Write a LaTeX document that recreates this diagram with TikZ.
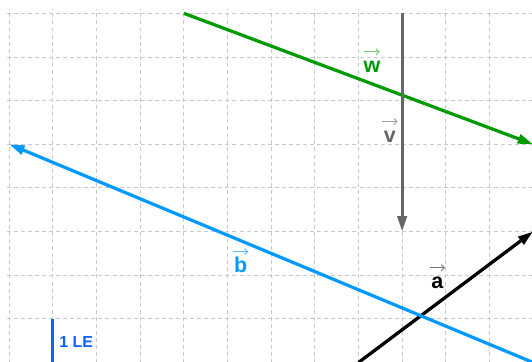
\documentclass[tikz,border=0pt]{standalone}
\usepackage{fontspec}
\setmainfont{Liberation Sans}
\usetikzlibrary{arrows.meta}

\definecolor{vecgreen}{HTML}{009900}
\definecolor{vecblue}{HTML}{0099FF}
\definecolor{vecgray}{HTML}{666666}
\definecolor{unitblue}{HTML}{0A64FF}
\definecolor{gridgray}{HTML}{C8C8C8}

\begin{document}
\begin{tikzpicture}[
    vector/.style={line width=2.1pt, -{Triangle[length=10pt,width=6pt]}},
    gridline/.style={gridgray, line width=0.6pt, dash pattern=on 2.6pt off 2pt},
    veclabel/.style={anchor=base, inner sep=0pt, font=\fontsize{14}{14}\selectfont\bfseries},
    overarrow/.style={line width=0.6pt, -{Straight Barb[length=2pt,width=4pt]}}]
    \useasboundingbox (-0.213,0.012) rectangle (11.975,8.305);
    \draw[gridline, step=1] (-0.06,-0.5) grid (12.5,8.09);

    \coordinate (w-tail) at (4,8);
    \coordinate (w-tip) at (12,5);
    \coordinate (v-tail) at (9,8);
    \coordinate (v-tip) at (9,3);
    \coordinate (a-tail) at (8,0);
    \coordinate (a-tip) at (12,3);
    \coordinate (b-tail) at (12,0);
    \coordinate (b-tip) at (0,5);

    \draw[vector, vecgreen] (w-tail) -- (w-tip);
    \draw[vector, vecgray] (v-tail) -- (v-tip);
    \draw[vector, black] (a-tail) -- (a-tip);
    \draw[vector, vecblue] (b-tail) -- (b-tip);

    \node[veclabel, text=vecgreen] (w-label) at (8.31,6.644) {w};
    \node[veclabel, text=vecgray] (v-label) at (8.72,5.05) {v};
    \node[veclabel, text=black] (a-label) at (9.805,1.70) {a};
    \node[veclabel, text=vecblue] (b-label) at (5.30,2.07) {b};

    % Pfeile ueber den Namen
    \draw[overarrow, vecgreen!55] ([xshift=-5pt, yshift=13.4pt]w-label.base) -- ++(10pt,0);
    \draw[overarrow, vecgray!65] ([xshift=-5pt, yshift=13.4pt]v-label.base) -- ++(10pt,0);
    \draw[overarrow, black!55] ([xshift=-5pt, yshift=13.4pt]a-label.base) -- ++(10pt,0);
    \draw[overarrow, vecblue!65] ([xshift=-5pt, yshift=13.4pt]b-label.base) -- ++(10pt,0);

    \coordinate (unit-top) at (1,1);
    \coordinate (unit-bottom) at (1,0);
    \draw[unitblue, line width=2pt] (unit-top) -- (unit-bottom);
    \node[anchor=west, inner sep=0pt, text=unitblue, font=\fontsize{10.4}{10.4}\selectfont\bfseries]
        (unit-label) at (1.14,0.48) {1 LE};
\end{tikzpicture}
\end{document}
